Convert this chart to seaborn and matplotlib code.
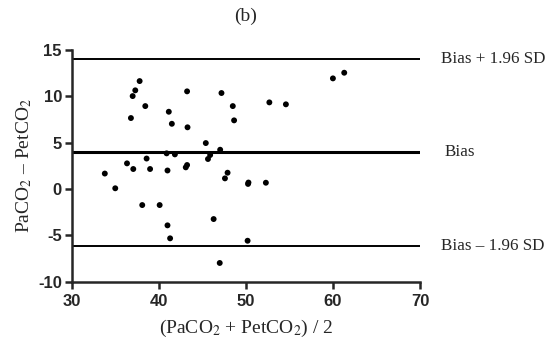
import numpy as np
import pandas as pd
from matplotlib import pyplot as plt
import seaborn as sns

# mean of the two measurements (x) and their difference (y)
mean_vals = [33.8, 35.0, 36.35, 36.8, 37.0, 37.07, 37.3, 37.8, 38.1, 38.45,
             38.6, 39.0, 40.1, 40.9, 41.0, 41.0, 41.15, 41.3, 41.5, 41.85,
             43.1, 43.25, 43.25, 43.3, 45.4, 45.65, 45.9, 46.3, 47.0, 47.05,
             47.2, 47.6, 47.9, 48.5, 48.65, 50.2, 50.25, 50.3, 52.3, 52.7,
             54.6, 60.0, 61.3]
diff_vals = [1.67, 0.08, 2.77, 7.66, 10.03, 2.16, 10.65, 11.65, -1.73, 8.95,
             3.29, 2.16, -1.73, 3.85, 2.0, -3.92, 8.34, -5.32, 7.04, 3.74,
             2.34, 2.59, 10.54, 6.66, 4.96, 3.24, 3.67, -3.24, -7.98, 4.24,
             10.36, 1.15, 1.76, 8.95, 7.41, -5.58, 0.55, 0.7, 0.68, 9.35,
             9.14, 11.94, 12.55]

bias = 4.0
upper_loa = 14.0
lower_loa = -6.1
line_labels = ['Bias + 1.96 SD', 'Bias', 'Bias \u2013 1.96 SD']


def main():
    sns.set_style('ticks')
    plt.rcParams['font.family'] = ['Liberation Serif', 'DejaVu Serif']
    plt.rcParams['mathtext.fontset'] = 'stix'
    plt.rcParams['axes.unicode_minus'] = False

    df = pd.DataFrame({'mean': mean_vals, 'diff': diff_vals})

    fig = plt.figure(figsize=(5.5, 3.45), dpi=100)
    ax = fig.add_axes([0.1304, 0.1835, 0.6332, 0.6715])

    # limits of agreement
    ax.axhline(upper_loa, color='black', lw=1.4, zorder=1)
    ax.axhline(bias, color='black', lw=2.2, zorder=1)
    ax.axhline(lower_loa, color='black', lw=1.4, zorder=1)

    sns.scatterplot(data=df, x='mean', y='diff', ax=ax, color='black',
                    s=18, edgecolor='none', zorder=3)

    ax.set_xlim(30, 70)
    ax.set_ylim(-10, 15)
    ax.set_xticks([30, 40, 50, 60, 70])
    ax.set_yticks([-10, -5, 0, 5, 10, 15])
    sns.despine(ax=ax)
    for sp in ['left', 'bottom']:
        ax.spines[sp].set_linewidth(1.8)
    ax.tick_params(width=1.8, length=5, pad=2)
    ax.tick_params(axis='x', pad=4)
    for lab in ax.get_xticklabels() + ax.get_yticklabels():
        lab.set_family('Liberation Sans')
        lab.set_fontweight('bold')
        lab.set_fontsize(12)

    ax.set_xlabel('(PaCO$_2$ + PetCO$_2$) / 2', fontsize=14, labelpad=6)
    ax.set_ylabel('PaCO$_2$ \u2013 PetCO$_2$', fontsize=14, labelpad=3)
    ax.set_title('(b)', fontsize=14, pad=21)

    for yv, txt, dx in zip([upper_loa, bias, lower_loa], line_labels, [0, 3, 0]):
        ax.annotate(txt, xy=(1, yv), xycoords=('axes fraction', 'data'),
                    xytext=(15 + dx, 0), textcoords='offset points',
                    va='center', ha='left', fontsize=12.3)

    fig.savefig('out.png', dpi=100)


if __name__ == '__main__':
    main()
